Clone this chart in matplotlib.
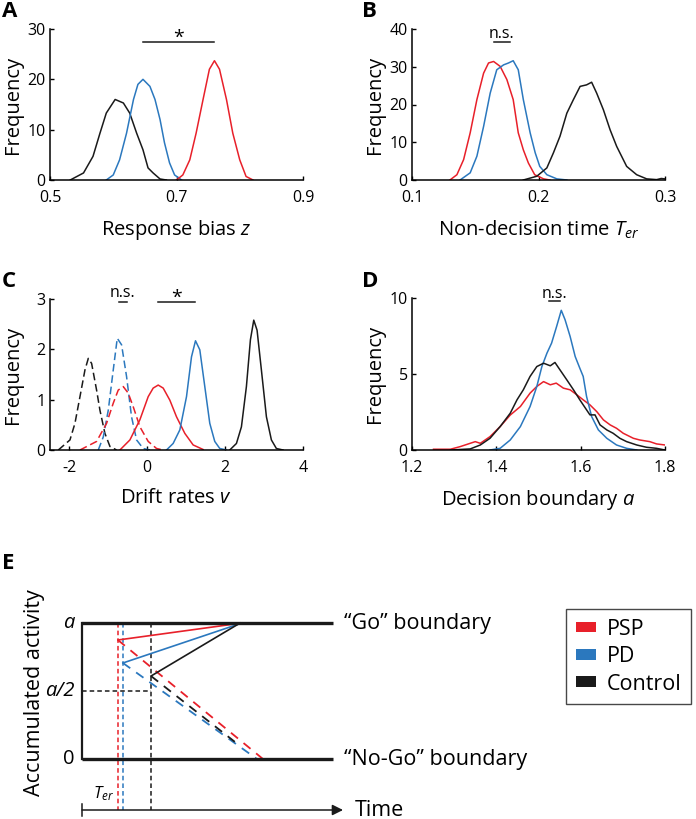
import numpy as np
import matplotlib.pyplot as plt
from matplotlib.patches import Patch

plt.rcParams['font.family'] = ['Open Sans', 'DejaVu Sans']
plt.rcParams['mathtext.fontset'] = 'custom'
plt.rcParams['mathtext.rm'] = 'Open Sans'
plt.rcParams['mathtext.it'] = 'Open Sans:italic'

RED = '#e8202a'
BLUE = '#2b78be'
BLACK = '#1a1a1a'
W, H = 696, 819

# ---- A: response bias z ----
a_black_x = [0.532, 0.553, 0.568, 0.579, 0.589, 0.603, 0.616, 0.626, 0.637, 0.647, 0.655, 0.663, 0.674, 0.684]
a_black_y = [0, 1.4, 4.7, 9.3, 13.3, 16, 15.3, 13.3, 9.3, 6, 2.4, 1.4, 0.2, 0]
a_blue_x = [0.589, 0.600, 0.610, 0.621, 0.632, 0.639, 0.647, 0.658, 0.666, 0.674, 0.681, 0.689, 0.697, 0.708]
a_blue_y = [0, 1, 4, 9.3, 16, 19, 20, 18.6, 16, 12, 7.4, 3.4, 1, 0]
a_red_x = [0.700, 0.710, 0.721, 0.731, 0.742, 0.752, 0.760, 0.768, 0.779, 0.789, 0.800, 0.810, 0.821]
a_red_y = [0, 1, 4, 9.3, 16, 22, 23.7, 22, 16, 9.3, 4, 0.7, 0]

# ---- B: non-decision time ----
b_red_x = [0.130, 0.1355, 0.1408, 0.146, 0.1513, 0.1566, 0.1605, 0.1645, 0.1697, 0.175, 0.180, 0.184, 0.188, 0.192, 0.197, 0.204, 0.209]
b_red_y = [0, 1.4, 5.4, 12.5, 21.3, 28.3, 31, 31.4, 30.1, 26.6, 21.3, 12.5, 8, 4.5, 1.4, 0.3, 0]
b_blue_x = [0.138, 0.146, 0.1513, 0.1566, 0.1618, 0.167, 0.1724, 0.1763, 0.180, 0.184, 0.188, 0.1934, 0.1974, 0.201, 0.2066, 0.2145, 0.2224]
b_blue_y = [0, 1.9, 6.3, 14.2, 23, 29.2, 30.5, 31, 31.6, 29.2, 21.3, 12.5, 7.2, 3.6, 1.4, 0.3, 0]
b_black_x = [0.188, 0.1987, 0.2066, 0.2118, 0.217, 0.2224, 0.2276, 0.2329, 0.238, 0.242, 0.246, 0.2513, 0.2566, 0.2618, 0.2697, 0.2776, 0.2855, 0.2934, 0.297, 0.300]
b_black_y = [0, 1, 3.2, 7.2, 11.6, 17.7, 21.3, 24.8, 25.2, 25.9, 23, 18.6, 13.3, 8.9, 3.6, 1.4, 0.3, 0.1, 0.4, 0.3]

# ---- C: drift rates (dashed = second condition) ----
c_black_d_x = [-2.286, -1.987, -1.859, -1.730, -1.602, -1.516, -1.431, -1.303, -1.217, -1.089, -0.96, -0.789]
c_black_d_y = [0, 0.2, 0.53, 1.06, 1.59, 1.82, 1.72, 1.19, 0.79, 0.33, 0.07, 0]
c_blue_d_x = [-1.26, -1.131, -1.003, -0.875, -0.772, -0.661, -0.533, -0.405, -0.276, -0.105, 0.066]
c_blue_d_y = [0, 0.26, 0.79, 1.59, 2.22, 2.09, 1.46, 0.66, 0.2, 0.03, 0]
c_red_d_x = [-1.73, -1.303, -1.046, -0.875, -0.747, -0.618, -0.49, -0.362, -0.19, 0.023, 0.237, 0.408]
c_red_d_y = [0, 0.17, 0.53, 0.93, 1.19, 1.26, 1.13, 0.86, 0.46, 0.17, 0.03, 0]
c_red_x = [-0.704, -0.447, -0.191, 0.023, 0.151, 0.28, 0.408, 0.579, 0.75, 0.964, 1.178, 1.434]
c_red_y = [0, 0.2, 0.6, 1.06, 1.23, 1.29, 1.23, 0.99, 0.66, 0.33, 0.1, 0.01]
c_blue_x = [0.493, 0.664, 0.836, 1.007, 1.135, 1.238, 1.349, 1.477, 1.605, 1.733, 1.862, 2.033]
c_blue_y = [0, 0.13, 0.4, 1.06, 1.85, 2.17, 1.99, 1.26, 0.53, 0.17, 0.03, 0]
c_black_x = [2.118, 2.29, 2.418, 2.546, 2.649, 2.735, 2.82, 2.931, 3.06, 3.188, 3.316, 3.487]
c_black_y = [0, 0.13, 0.46, 1.26, 2.19, 2.58, 2.38, 1.59, 0.66, 0.2, 0.03, 0]

# ---- D: decision boundary ----
d_red_x = [1.251, 1.291, 1.314, 1.338, 1.35, 1.362, 1.385, 1.409, 1.433, 1.457, 1.48, 1.496, 1.512, 1.528, 1.542,
           1.559, 1.575, 1.591, 1.606, 1.622, 1.638, 1.654, 1.67, 1.685, 1.701, 1.725, 1.74, 1.764, 1.78, 1.8]
d_red_y = [0.05, 0.05, 0.22, 0.44, 0.55, 0.44, 0.88, 1.54, 2.3, 2.86, 3.74, 4.18, 4.5, 4.29, 4.4,
           4.07, 3.96, 3.63, 3.3, 2.97, 2.53, 1.98, 1.65, 1.43, 1.1, 0.77, 0.66, 0.55, 0.4, 0.33]
d_black_x = [1.291, 1.338, 1.362, 1.385, 1.409, 1.433, 1.449, 1.464, 1.48, 1.496, 1.512, 1.528, 1.539, 1.551, 1.567,
             1.583, 1.598, 1.614, 1.622, 1.634, 1.646, 1.662, 1.677, 1.693, 1.709, 1.733, 1.756, 1.78, 1.8]
d_black_y = [0, 0.07, 0.33, 0.77, 1.54, 2.42, 3.3, 3.96, 4.84, 5.49, 5.71, 5.54, 5.76, 5.27, 4.62,
             3.96, 3.3, 2.64, 2.31, 2.31, 1.65, 1.32, 1.1, 0.77, 0.55, 0.33, 0.18, 0.11, 0]
d_blue_x = [1.385, 1.409, 1.433, 1.457, 1.48, 1.496, 1.508, 1.52, 1.531, 1.543, 1.554, 1.563, 1.575, 1.587, 1.598,
            1.606, 1.614, 1.626, 1.642, 1.662, 1.685, 1.709, 1.733]
d_blue_y = [0, 0.11, 0.66, 1.54, 2.86, 4.18, 5.49, 6.37, 7.03, 8.13, 9.19, 8.57, 7.47, 6.15, 5.38,
            4.84, 3.52, 2.2, 1.32, 0.77, 0.33, 0.11, 0]

# ---- E: schematic of the drift-diffusion model (time 0..1, activity 0..a) ----
groups = ['PSP', 'PD', 'Control']
group_colors = [RED, BLUE, BLACK]
ter = [0.143, 0.163, 0.275]          # non-decision time
start_y = [0.875, 0.706, 0.61]       # starting point
go_hit_t = [0.637, 0.637, 0.63]      # time reaching "Go"
nogo_end_t = [0.721, 0.697, 0.62]    # end of dashed path
nogo_end_y = [0.0, 0.0, 0.11]


def box(l, t, r, b):
    return [l / W, 1 - b / H, (r - l) / W, (b - t) / H]


def style(ax, xlim, xticks, xticklabels, ylim, yticks, xlabel, ylab_x):
    ax.set_xlim(xlim)
    ax.set_ylim(ylim)
    ax.set_xticks(xticks)
    ax.set_xticklabels(xticklabels)
    ax.set_yticks(yticks)
    for s in ['top', 'right']:
        ax.spines[s].set_visible(False)
    for s in ['left', 'bottom']:
        ax.spines[s].set_linewidth(1.1)
    ax.tick_params(direction='in', length=3, width=1, labelsize=11.5)
    ax.tick_params(axis='x', pad=7)
    ax.tick_params(axis='y', pad=3)
    ax.set_xlabel(xlabel, fontsize=14.5, labelpad=9)
    ax.set_ylabel('Frequency', fontsize=14.5)
    ax.yaxis.set_label_coords(ylab_x, 0.5)


def sig(ax, x0, x1, y, label, ty, fs):
    ax.plot([x0, x1], [y, y], color=BLACK, lw=1.1, clip_on=False)
    ax.text((x0 + x1) / 2, ty, label, ha='center', va='baseline', fontsize=fs)


fig = plt.figure(figsize=(W / 100, H / 100), dpi=100)
lw = 1.1

axA = fig.add_axes(box(50, 29, 303, 180))
axA.plot(a_black_x, a_black_y, color=BLACK, lw=lw)
axA.plot(a_blue_x, a_blue_y, color=BLUE, lw=lw)
axA.plot(a_red_x, a_red_y, color=RED, lw=lw)
style(axA, (0.5, 0.9), [0.5, 0.7, 0.9], ['0.5', '0.7', '0.9'], (0, 30), [0, 10, 20, 30],
      'Response bias $z$', (23 - 50) / 253)
sig(axA, 0.647, 0.760, 27.4, '*', 27.3, 14)

axB = fig.add_axes(box(412, 29, 665, 180))
axB.plot(b_red_x, b_red_y, color=RED, lw=lw)
axB.plot(b_blue_x, b_blue_y, color=BLUE, lw=lw)
axB.plot(b_black_x, b_black_y, color=BLACK, lw=lw)
style(axB, (0.1, 0.3), [0.1, 0.2, 0.3], ['0.1', '0.2', '0.3'], (0, 40), [0, 10, 20, 30, 40],
      'Non-decision time $T_{er}$', (385 - 412) / 253)
sig(axB, 0.1645, 0.1776, 36.5, 'n.s.', 37.6, 11.5)

axC = fig.add_axes(box(50, 299, 303, 450))
dash = (5, 2.5)
axC.plot(c_black_d_x, c_black_d_y, color=BLACK, lw=lw, dashes=dash)
axC.plot(c_blue_d_x, c_blue_d_y, color=BLUE, lw=lw, dashes=dash)
axC.plot(c_red_d_x, c_red_d_y, color=RED, lw=lw, dashes=dash)
axC.plot(c_red_x, c_red_y, color=RED, lw=lw)
axC.plot(c_blue_x, c_blue_y, color=BLUE, lw=lw)
axC.plot(c_black_x, c_black_y, color=BLACK, lw=lw)
style(axC, (-2.5, 4), [-2, 0, 2, 4], ['-2', '0', '2', '4'], (0, 3), [0, 1, 2, 3],
      'Drift rates $v$', (23 - 50) / 253)
sig(axC, -0.72, -0.533, 2.95, 'n.s.', 3.03, 11.5)
sig(axC, 0.263, 1.22, 2.95, '*', 2.92, 14)

axD = fig.add_axes(box(412, 298, 665, 450))
axD.plot(d_red_x, d_red_y, color=RED, lw=lw)
axD.plot(d_blue_x, d_blue_y, color=BLUE, lw=lw)
axD.plot(d_black_x, d_black_y, color=BLACK, lw=lw)
style(axD, (1.2, 1.8), [1.2, 1.4, 1.6, 1.8], ['1.2', '1.4', '1.6', '1.8'], (0, 10), [0, 5, 10],
      'Decision boundary $a$', (385 - 412) / 253)
sig(axD, 1.526, 1.55, 9.78, 'n.s.', 10.0, 11.5)

# ---- E ----
axE = fig.add_axes(box(82, 623, 333, 759))
axE.set_xlim(0, 1)
axE.set_ylim(0, 1)
axE.axis('off')
t_axis = -0.375
for x, c in zip(ter, group_colors):
    axE.plot([x, x], [1, t_axis], color=c, lw=1.1, dashes=(3, 2), clip_on=False)
axE.plot([0, ter[2]], [0.5, 0.5], color=BLACK, lw=1.1, dashes=(3, 2), clip_on=False)
for i, c in enumerate(group_colors):
    axE.plot([ter[i], go_hit_t[i]], [start_y[i], 1], color=c, lw=1.2, clip_on=False)
    axE.plot([ter[i], nogo_end_t[i]], [start_y[i], nogo_end_y[i]], color=c, lw=1.3,
             dashes=(5, 4), clip_on=False)
axE.plot([0, 1], [1, 1], color=BLACK, lw=2.4, solid_capstyle='butt', clip_on=False)
axE.plot([0, 1], [0, 0], color=BLACK, lw=2.4, solid_capstyle='butt', clip_on=False)
axE.plot([0, 0], [0, 1], color=BLACK, lw=1.6, clip_on=False)
axE.annotate('', xy=(1.04, t_axis), xytext=(0, t_axis), annotation_clip=False,
             arrowprops=dict(arrowstyle='-|>', lw=1.1, color=BLACK, mutation_scale=16,
                             shrinkA=0, shrinkB=0))
axE.plot([0, 0], [t_axis + 0.045, t_axis - 0.045], color=BLACK, lw=1.1, clip_on=False)

axE.text(-0.03, 1, 'a', style='italic', ha='right', va='center', fontsize=14.5)
axE.text(-0.03, 0.5, 'a/2', style='italic', ha='right', va='center', fontsize=14.5)
axE.text(-0.03, 0, '0', ha='right', va='center', fontsize=14.5)
axE.text(0.085, -0.255, '$T_{er}$', ha='center', va='center', fontsize=12)
axE.text(1.088, t_axis, 'Time', ha='left', va='center', fontsize=15.5)
axE.text(1.043, 1, '\u201cGo\u201d boundary', ha='left', va='center', fontsize=15.5)
axE.text(1.043, 0, '\u201cNo-Go\u201d boundary', ha='left', va='center', fontsize=15.5)
axE.text(-0.19, 0.485, 'Accumulated activity', rotation=90, ha='center', va='center', fontsize=15.5)

handles = [Patch(facecolor=c, edgecolor='none') for c in group_colors]
leg = fig.legend(handles, groups, loc='upper left', bbox_to_anchor=(566 / W, 1 - 609 / H),
                 bbox_transform=fig.transFigure, borderaxespad=0, fontsize=15.5,
                 frameon=True, fancybox=False, handlelength=0.93, handleheight=0.4,
                 handletextpad=0.5, labelspacing=0.3, borderpad=0.45)
leg.get_frame().set_edgecolor(BLACK)
leg.get_frame().set_linewidth(1.0)

# panel letters
for lab, (px, py) in zip('ABCDE', [(2, 1), (362, 1), (2, 271), (362, 271), (2, 553)]):
    fig.text(px / W, 1 - py / H, lab, ha='left', va='top', fontsize=16, fontweight='bold')

fig.savefig('out.png', dpi=100, facecolor='white')
